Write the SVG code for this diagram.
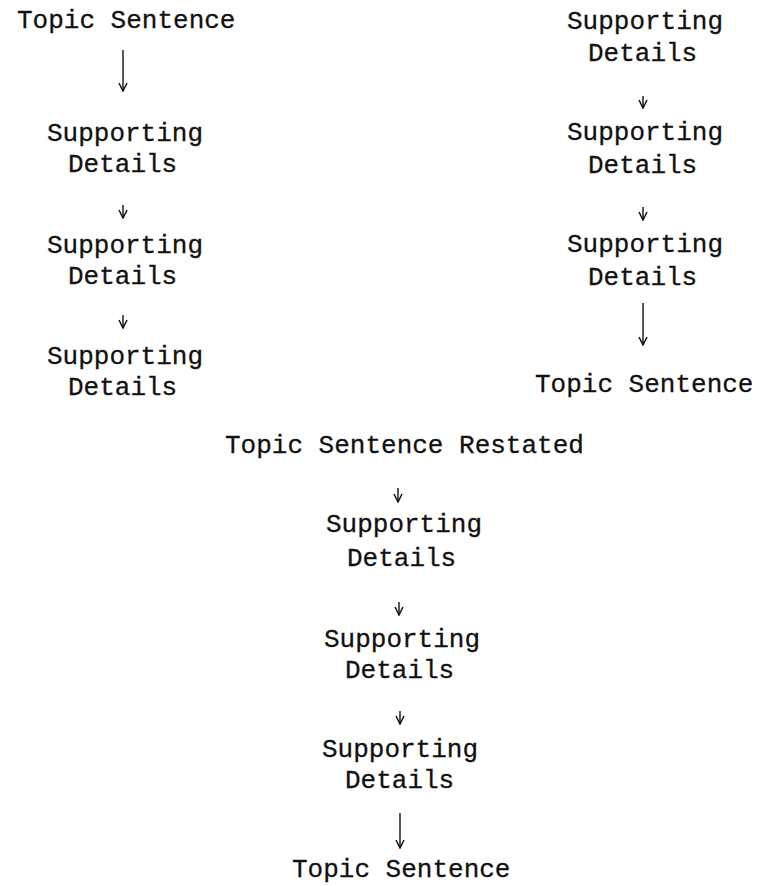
<svg xmlns="http://www.w3.org/2000/svg" width="757" height="886" viewBox="0 0 757 886">
<style>
text{font-family:"Liberation Mono","Courier New",monospace;font-size:26px;fill:#111;stroke:#111;stroke-width:0.3}
.c line{stroke:#111;stroke-width:1.4;fill:none}
</style>
<defs>
<marker id="ah" markerUnits="userSpaceOnUse" viewBox="0 0 10 10" markerWidth="10" markerHeight="10" refX="9" refY="5" orient="auto">
<path d="M1,1 L9,5 L1,9" fill="none" stroke="#111" stroke-width="1.5"/>
</marker>
</defs>
<rect width="757" height="886" fill="#fff"/>
<g id="left-topic"><text x="17" y="28">Topic Sentence</text></g>
<g id="left-sd1"><text x="47" y="141">Supporting</text><text x="68" y="172">Details</text></g>
<g id="left-sd2"><text x="47" y="253">Supporting</text><text x="68" y="284">Details</text></g>
<g id="left-sd3"><text x="47" y="364">Supporting</text><text x="68" y="395">Details</text></g>
<g id="right-sd1"><text x="567" y="29">Supporting</text><text x="588" y="61">Details</text></g>
<g id="right-sd2"><text x="567" y="140">Supporting</text><text x="588" y="173">Details</text></g>
<g id="right-sd3"><text x="567" y="252">Supporting</text><text x="588" y="285">Details</text></g>
<g id="right-topic"><text x="535" y="392">Topic Sentence</text></g>
<g id="mid-restated"><text x="225" y="453">Topic Sentence Restated</text></g>
<g id="mid-sd1"><text x="326" y="532">Supporting</text><text x="347" y="566">Details</text></g>
<g id="mid-sd2"><text x="324" y="647">Supporting</text><text x="345" y="678">Details</text></g>
<g id="mid-sd3"><text x="322" y="757">Supporting</text><text x="345" y="788">Details</text></g>
<g id="mid-topic"><text x="292" y="877">Topic Sentence</text></g>
<g id="connectors" class="c">
<line x1="123" y1="50" x2="123" y2="91" marker-end="url(#ah)"/>
<line x1="123" y1="205" x2="123" y2="218" marker-end="url(#ah)"/>
<line x1="123" y1="315" x2="123" y2="328" marker-end="url(#ah)"/>
<line x1="643" y1="96" x2="643" y2="108" marker-end="url(#ah)"/>
<line x1="643" y1="207" x2="643" y2="220" marker-end="url(#ah)"/>
<line x1="643" y1="303" x2="643" y2="345" marker-end="url(#ah)"/>
<line x1="398" y1="488" x2="398" y2="502" marker-end="url(#ah)"/>
<line x1="399" y1="602" x2="399" y2="615" marker-end="url(#ah)"/>
<line x1="400" y1="711" x2="400" y2="724" marker-end="url(#ah)"/>
<line x1="400" y1="813" x2="400" y2="848" marker-end="url(#ah)"/>
</g>
</svg>
